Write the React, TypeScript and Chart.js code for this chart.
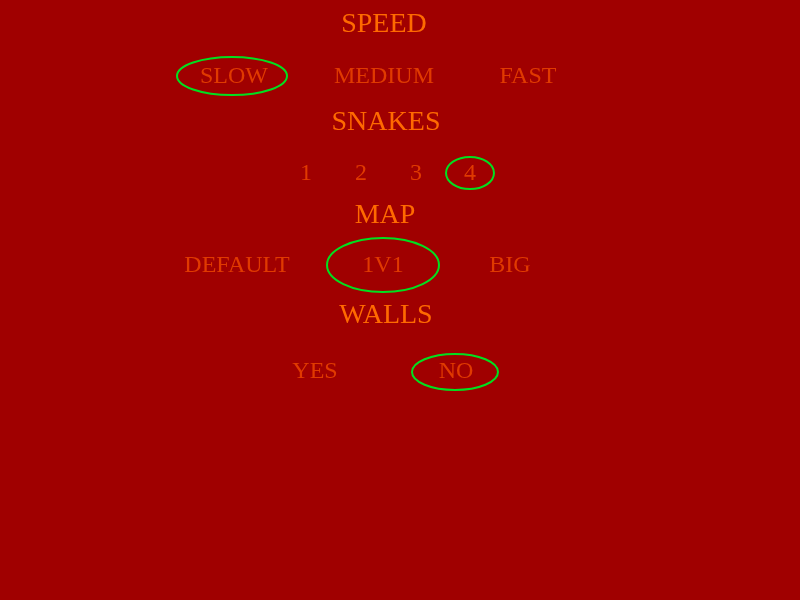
import { useEffect, useRef } from "react";
import { Chart, registerables } from "chart.js";
Chart.register(...registerables);

// menu section headings
const titles = ["SPEED", "SNAKES", "MAP", "WALLS"];
const titleX = [384, 386, 385, 386];
const titleY = [25, 123, 216, 316];

// options per row
const options = ["SLOW", "MEDIUM", "FAST", "1", "2", "3", "4", "DEFAULT", "1V1", "BIG", "YES", "NO"];
const optionX = [234, 384, 528, 306, 361, 416, 470, 237, 383, 510, 315, 456];
const optionY = [77, 77, 77, 174, 174, 174, 174, 266, 266, 266, 372, 372];

// selected options (circled): center and radii in chart units
const selX = [232, 470, 383, 455];
const selY = [76, 173, 265, 372];
const selRx = [55, 24, 56, 43];
const selRy = [19, 16, 27, 18];

const FONT = "'Liberation Serif', 'DejaVu Serif', serif";

export default function App() {
  const chartRef = useRef<HTMLCanvasElement>(null);
  const chartInstance = useRef<Chart | null>(null);

  useEffect(() => {
    if (!chartRef.current) return;
    chartInstance.current?.destroy();

    const menuPlugin = {
      id: "menu",
      beforeDraw(chart: any) {
        const c = chart.ctx;
        c.save();
        c.fillStyle = "#a00000";
        c.fillRect(0, 0, chart.width, chart.height);
        c.restore();
      },
      afterDatasetsDraw(chart: any) {
        const c = chart.ctx;
        const sx = chart.scales.x;
        const sy = chart.scales.y;
        c.save();
        c.textAlign = "center";
        c.textBaseline = "middle";
        c.font = `28px ${FONT}`;
        c.fillStyle = "#ff6a00";
        titles.forEach((t, i) => c.fillText(t, sx.getPixelForValue(titleX[i]), sy.getPixelForValue(titleY[i])));
        c.font = `24px ${FONT}`;
        c.fillStyle = "#e03a00";
        options.forEach((t, i) => c.fillText(t, sx.getPixelForValue(optionX[i]), sy.getPixelForValue(optionY[i])));
        c.strokeStyle = "#00e020";
        c.lineWidth = 2;
        selX.forEach((x, i) => {
          const px = sx.getPixelForValue(x);
          const py = sy.getPixelForValue(selY[i]);
          const rx = Math.abs(sx.getPixelForValue(x + selRx[i]) - px);
          const ry = Math.abs(sy.getPixelForValue(selY[i] + selRy[i]) - py);
          c.beginPath();
          c.ellipse(px, py, rx, ry, 0, 0, Math.PI * 2);
          c.stroke();
        });
        c.restore();
      },
    };

    chartInstance.current = new Chart(chartRef.current, {
      type: "scatter",
      data: {
        datasets: [
          {
            data: optionX.map((x, i) => ({ x, y: optionY[i] })),
            pointRadius: 0,
          },
        ],
      },
      options: {
        animation: false,
        responsive: false,
        layout: { padding: 0 },
        plugins: { legend: { display: false }, tooltip: { enabled: false } },
        scales: {
          x: { type: "linear", min: 0, max: 800, display: false },
          y: { type: "linear", min: 0, max: 600, reverse: true, display: false },
        },
      },
      plugins: [menuPlugin],
    });

    return () => {
      chartInstance.current?.destroy();
    };
  }, []);

  return (
    <div style={{ position: "fixed", left: 0, top: 0, width: 800, height: 600, background: "#a00000" }}>
      <canvas ref={chartRef} width={800} height={600} style={{ width: 800, height: 600 }}></canvas>
    </div>
  );
}
